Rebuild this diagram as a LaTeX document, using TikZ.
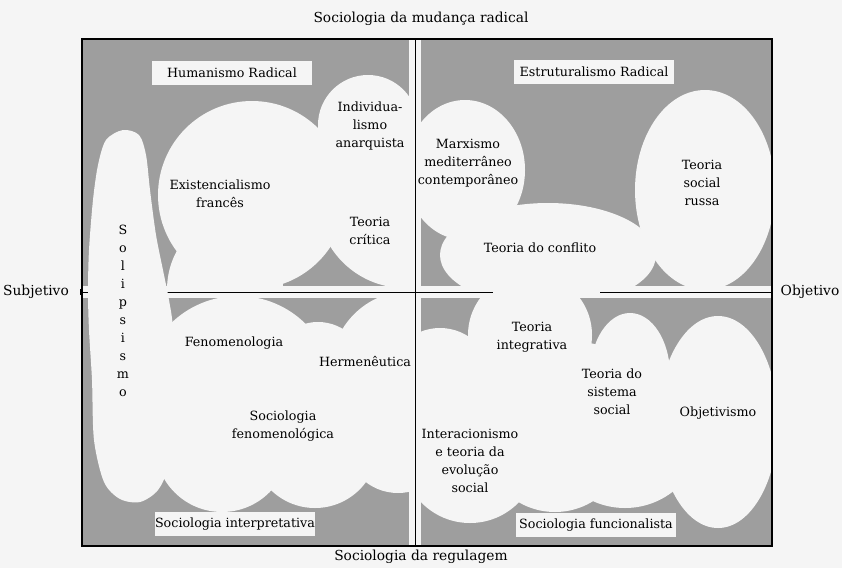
\documentclass[tikz,border=0pt]{standalone}
\usepackage{fontspec}
\setmainfont{DejaVu Serif}
\definecolor{papel}{gray}{0.96}
\definecolor{fundo}{gray}{0.62}

\begin{document}
\begin{tikzpicture}[x=1pt, y=-1pt,
	quadro/.style={fill=fundo},
	mancha/.style={fill=papel},
	rotulo/.style={align=center, inner sep=0pt, font=\fontsize{12.7}{18}\selectfont},
	caixa/.style={fill=papel, inner sep=0pt, minimum width=160pt, minimum height=24pt, font=\fontsize{12.7}{14}\selectfont},
	eixo/.style={inner sep=0pt, font=\fontsize{13.8}{16}\selectfont}]
	\fill[papel] (0,0) rectangle (842,568);
	\useasboundingbox (0,0) rectangle (842,568);
	
	\coordinate (esq) at (80,292);
	\coordinate (meio1) at (493,292);
	\coordinate (meio2) at (600,292);
	\coordinate (dir) at (772,292);
	
	% quadrantes
	\fill[quadro] (82,39) rectangle (409,286);
	\fill[quadro] (421,39) rectangle (772,286);
	\fill[quadro] (82,298) rectangle (409,546);
	\fill[quadro] (421,298) rectangle (772,546);
	
	% humanismo radical
	\begin{scope}
		\clip (82,39) rectangle (409,286);
		\fill[mancha] (252,195) circle[radius=94pt];
		\fill[mancha] (225,290) ellipse[x radius=58pt, y radius=70pt];
		\fill[mancha] (368,125) circle[radius=50pt];
		\fill[mancha] (405,200) circle[radius=88pt];
	\end{scope}
	
	% estruturalismo radical
	\begin{scope}
		\clip (421,39) rectangle (772,286);
		\fill[mancha] (465,170) ellipse[x radius=60pt, y radius=70pt];
		\fill[mancha] (548,255) ellipse[x radius=108pt, y radius=52pt];
		\fill[mancha] (705,190) ellipse[x radius=70pt, y radius=100pt];
	\end{scope}
	
	% sociologia interpretativa
	\begin{scope}
		\clip (82,298) rectangle (409,546);
		\fill[mancha] (238,392) circle[radius=96pt];
		\fill[mancha] (318,370) circle[radius=48pt];
		\fill[mancha] (410,370) circle[radius=79pt];
		\fill[mancha] (222,445) circle[radius=67pt];
		\fill[mancha] (315,445) circle[radius=63pt];
		\fill[mancha] (398,440) circle[radius=53pt];
		\fill[mancha] (290,420) ellipse[x radius=120pt, y radius=70pt];
	\end{scope}
	
	% sociologia funcionalista
	\begin{scope}
		\clip (421,298) rectangle (772,546);
		\fill[mancha] (440,380) circle[radius=52pt];
		\fill[mancha] (530,335) circle[radius=62pt];
		\fill[mancha] (630,375) ellipse[x radius=40pt, y radius=62pt];
		\fill[mancha] (718,422) ellipse[x radius=60pt, y radius=106pt];
		\fill[mancha] (470,455) circle[radius=68pt];
		\fill[mancha] (555,440) circle[radius=72pt];
		\fill[mancha] (625,430) circle[radius=78pt];
		\fill[mancha] (560,420) ellipse[x radius=110pt, y radius=80pt];
	\end{scope}
	
	\draw[line width=1.2pt] (82,39) rectangle (772,546);
	\draw (415,39) -- (415,546);
	\draw[|-] (esq) -- (meio1);
	\draw (meio2) -- (dir);
	
	% solipsismo
	\fill[mancha] plot[smooth cycle] coordinates {(94,440) (92,380) (89,330) (88,292) (89,250) (93,200) (98,165) (106,140) (123,130) (139,135) (146,155) (150,190) (156,235) (164,275) (169,300) (173,330) (174,400) (168,465) (158,490) (140,502) (120,499) (104,482)};
	
	\node[caixa] (hr) at (232,73) {Humanismo Radical};
	\node[caixa] (er) at (594,72) {Estruturalismo Radical};
	\node[caixa] (si) at (235,524) {Sociologia interpretativa};
	\node[caixa] (sf) at (596,525) {Sociologia funcionalista};
	
	\node[rotulo] (ind) at (370,126) {Individua-\\lismo\\anarquista};
	\node[rotulo] (exi) at (220,194) {Existencialismo\\francês};
	\node[rotulo] (cri) at (370,231) {Teoria\\crítica};
	\node[rotulo] (sol) at (123,311) {S\\o\\l\\i\\p\\s\\i\\s\\m\\o};
	\node[rotulo] (mar) at (468,163) {Marxismo\\mediterrâneo\\contemporâneo};
	\node[rotulo] (rus) at (702,183) {Teoria\\social\\russa};
	\node[rotulo] (con) at (540,248) {Teoria do conflito};
	\node[rotulo] (fen) at (234,343) {Fenomenologia};
	\node[rotulo] (her) at (365,362) {Hermenêutica};
	\node[rotulo] (sfe) at (283,426) {Sociologia\\fenomenológica};
	\node[rotulo] (itg) at (532,337) {Teoria\\integrativa};
	\node[rotulo] (sis) at (612,392) {Teoria do\\sistema\\social};
	\node[rotulo] (obj) at (718,413) {Objetivismo};
	\node[rotulo] (ite) at (470,461) {Interacionismo\\e teoria da\\evolução\\social};
	
	\node[eixo] (mud) at (421,19) {Sociologia da mudança radical};
	\node[eixo] (reg) at (421,557) {Sociologia da regulagem};
	\node[eixo] (sub) at (36,292) {Subjetivo};
	\node[eixo] (obv) at (810,292) {Objetivo};
\end{tikzpicture}
\end{document}
